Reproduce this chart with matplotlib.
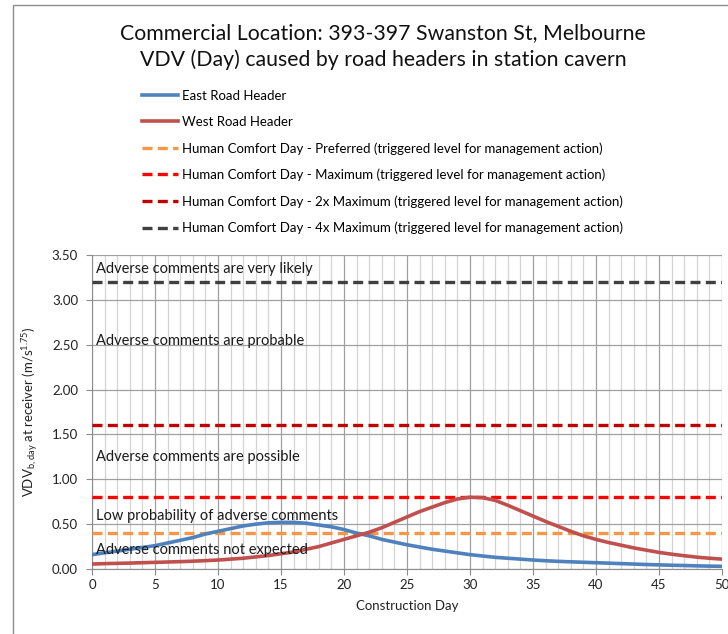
import matplotlib
matplotlib.use('Agg')
import matplotlib.pyplot as plt
from matplotlib.patches import Rectangle

plt.rcParams['font.family'] = ['Lato', 'DejaVu Sans']

# VDV (Day) per construction day
days = list(range(0, 51))
east_vdv = [0.16, 0.18, 0.20, 0.22, 0.24, 0.26, 0.29, 0.32, 0.35, 0.39,
            0.42, 0.45, 0.48, 0.50, 0.515, 0.52, 0.52, 0.51, 0.49, 0.47,
            0.44, 0.40, 0.37, 0.33, 0.30, 0.27, 0.245, 0.22, 0.20, 0.18,
            0.16, 0.145, 0.13, 0.12, 0.11, 0.10, 0.092, 0.085, 0.08, 0.075,
            0.07, 0.065, 0.06, 0.055, 0.05, 0.046, 0.042, 0.039, 0.035, 0.032,
            0.03]
west_vdv = [0.055, 0.06, 0.063, 0.066, 0.07, 0.074, 0.078, 0.082, 0.087, 0.093,
            0.10, 0.11, 0.12, 0.135, 0.15, 0.17, 0.19, 0.22, 0.25, 0.29,
            0.33, 0.37, 0.41, 0.46, 0.52, 0.58, 0.64, 0.69, 0.74, 0.78,
            0.80, 0.795, 0.765, 0.71, 0.65, 0.59, 0.53, 0.475, 0.42, 0.37,
            0.33, 0.295, 0.265, 0.235, 0.21, 0.185, 0.165, 0.148, 0.132, 0.12,
            0.11]

# comfort criteria (m/s^1.75)
limit_names = ['Human Comfort Day - Preferred (triggered level for management action)',
               'Human Comfort Day - Maximum (triggered level for management action)',
               'Human Comfort Day - 2x Maximum (triggered level for management action)',
               'Human Comfort Day - 4x Maximum (triggered level for management action)']
limit_values = [0.4, 0.8, 1.6, 3.2]
limit_colors = ['#F79646', '#FF0000', '#C00000', '#404040']

zone_labels = ['Adverse comments are very likely',
               'Adverse comments are probable',
               'Adverse comments are possible',
               'Low probability of adverse comments',
               'Adverse comments not expected']
zone_y = [3.34, 2.54, 1.25, 0.59, 0.21]

fig = plt.figure(figsize=(7.28, 6.34), dpi=100)
fig.patches.append(Rectangle((13 / 728, -0.1), 1.2, 1.1 - 5 / 634,
                             transform=fig.transFigure, fill=False,
                             edgecolor='#8c8c8c', linewidth=1.0))
ax = fig.add_axes([92 / 728, 65 / 634, 630 / 728, 314 / 634])

ax.plot(days, east_vdv, color='#4F81BD', linewidth=2.6, label='East Road Header', zorder=4)
ax.plot(days, west_vdv, color='#C0504D', linewidth=2.6, label='West Road Header', zorder=4)
for name, val, col in zip(limit_names, limit_values, limit_colors):
    ax.axhline(val, color=col, linewidth=2.4, linestyle=(0, (3, 1.6)), label=name, zorder=3)

for txt, y in zip(zone_labels, zone_y):
    ax.text(0.3, y, txt, fontsize=10.5, va='center', ha='left', color='#1a1a1a', zorder=5)

ax.set_xlim(0, 50)
ax.set_ylim(0, 3.5)
ax.set_xticks(range(0, 51, 5))
ax.set_xticks(range(0, 51), minor=True)
ax.set_yticks([i * 0.5 for i in range(8)])
ax.set_yticklabels([f'{i * 0.5:.2f}' for i in range(8)])
ax.grid(which='minor', axis='x', color='#d4d4d4', linewidth=0.9)
ax.grid(which='major', axis='x', color='#a0a0a0', linewidth=0.9)
ax.grid(which='major', axis='y', color='#a0a0a0', linewidth=0.9)
ax.set_axisbelow(True)
for side in ['top', 'right']:
    ax.spines[side].set_visible(False)
for side in ['left', 'bottom']:
    ax.spines[side].set_color('#8c8c8c')
ax.tick_params(which='major', length=4, color='#8c8c8c', labelsize=9.5, labelcolor='#222222')
ax.tick_params(which='minor', length=0)
ax.tick_params(axis='y', pad=6)

ax.set_xlabel('Construction Day', fontsize=9.5, color='#222222', labelpad=6)
ax.set_ylabel(r'VDV$_{\mathregular{b,day}}$ at receiver (m/s$^{\mathregular{1.75}}$)',
              fontsize=9.5, color='#222222', labelpad=8)

fig.text(383 / 728, 1 - 33 / 634, 'Commercial Location: 393-397 Swanston St, Melbourne',
         ha='center', va='center', fontsize=15.3, color='#111111')
fig.text(383 / 728, 1 - 60 / 634, 'VDV (Day) caused by road headers in station cavern',
         ha='center', va='center', fontsize=15.3, color='#111111')

fig.legend(loc='upper left', bbox_to_anchor=(142 / 728, 1 - 90 / 634), frameon=False,
           fontsize=9.5, handlelength=2.7, handletextpad=0.3, labelspacing=1.06,
           borderaxespad=0, borderpad=0)

fig.savefig('out.png', dpi=100)
